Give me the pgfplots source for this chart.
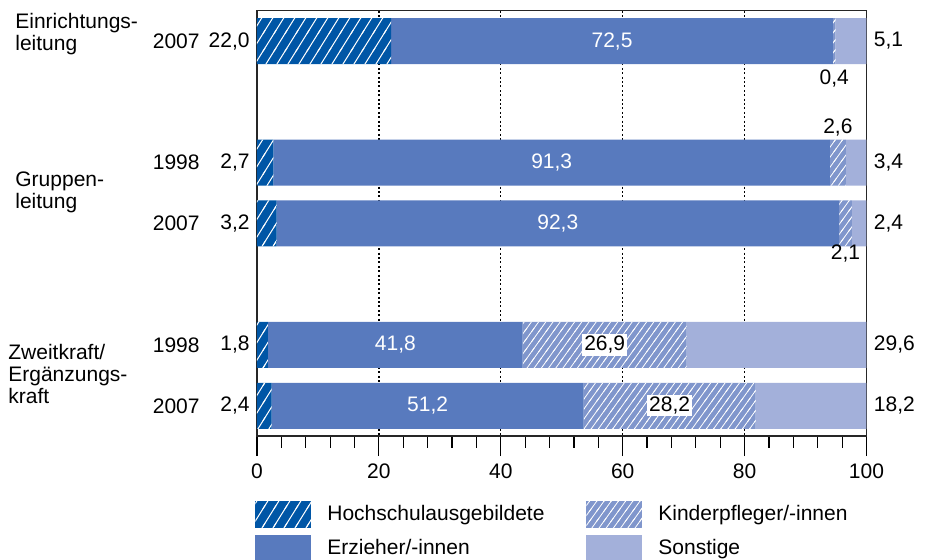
\documentclass[border=0pt]{standalone}
\usepackage{fontspec}
\setmainfont{Liberation Sans}
\usepackage{pgfplots}
\usepackage{pgfplotstable}
\pgfplotsset{compat=1.18}
\usetikzlibrary{patterns}

\definecolor{hsblue}{RGB}{0,86,166}
\definecolor{erzblue}{RGB}{88,122,190}
\definecolor{kpblue}{RGB}{128,150,204}
\definecolor{sonst}{RGB}{163,176,218}

% Schraffuren: Linien von links unten nach rechts oben
\pgfdeclarepatternformonly{hatchwide}{\pgfqpoint{-1pt}{-1pt}}{\pgfqpoint{6.5pt}{9.8pt}}{\pgfqpoint{5.5pt}{8.8pt}}{%
  \pgfsetlinewidth{0.5pt}%
  \pgfpathmoveto{\pgfqpoint{-0.55pt}{-0.88pt}}%
  \pgfpathlineto{\pgfqpoint{6.05pt}{9.68pt}}%
  \pgfusepath{stroke}}
\pgfdeclarepatternformonly{hatchfine}{\pgfqpoint{-1pt}{-1pt}}{\pgfqpoint{4.6pt}{6pt}}{\pgfqpoint{3.6pt}{5pt}}{%
  \pgfsetlinewidth{0.4pt}%
  \pgfpathmoveto{\pgfqpoint{-0.72pt}{-1pt}}%
  \pgfpathlineto{\pgfqpoint{4.32pt}{6pt}}%
  \pgfusepath{stroke}}

% y = Zeile (1 oben), h = Hochschul, e = Erzieher, k = Kinderpfleger, s = Sonstige
\pgfplotstableread{
y h    e    k    s
1 22.0 72.5 0.4  5.1
3 2.7  91.3 2.6  3.4
4 3.2  92.3 2.1  2.4
6 1.8  41.8 26.9 29.6
7 2.4  51.2 28.2 18.2
}\data

\pgfplotsset{
  swatch/.style={legend image code/.code={\fill[##1] (0pt,-6.75pt) rectangle (28pt,6.75pt);}},
  labels/.style={after end axis/.code={%
    \tikzset{every node/.style={inner sep=0pt}}%
    % Werte innerhalb der Balken
    \node[white] at (axis cs:58.25,1) {72,5};
    \node[white] at (axis cs:48.35,3) {91,3};
    \node[white] at (axis cs:49.35,4) {92,3};
    \node[white] at (axis cs:22.7,6) {41,8};
    \node[white] at (axis cs:28.0,7) {51,2};
    \node[fill=white, inner sep=1pt] at (axis cs:57.05,6) {26,9};
    \node[fill=white, inner sep=1pt] at (axis cs:67.7,7) {28,2};
    % kleine Anteile
    \node[yshift=-18.5pt] at (axis cs:94.7,1) {0,4};
    \node[yshift=17.5pt] at (axis cs:95.3,3) {2,6};
    \node[yshift=-15pt] at (axis cs:96.55,4) {2,1};
    % Hochschulanteile links
    \node[anchor=east, xshift=-3.5pt] at (axis cs:0,1) {22,0};
    \node[anchor=east, xshift=-3.5pt] at (axis cs:0,3) {2,7};
    \node[anchor=east, xshift=-3.5pt] at (axis cs:0,4) {3,2};
    \node[anchor=east, xshift=-3.5pt] at (axis cs:0,6) {1,8};
    \node[anchor=east, xshift=-3.5pt] at (axis cs:0,7) {2,4};
    % Jahre
    \node[anchor=east, xshift=-28.5pt] at (axis cs:0,1) {2007};
    \node[anchor=east, xshift=-28.5pt] at (axis cs:0,3) {1998};
    \node[anchor=east, xshift=-28.5pt] at (axis cs:0,4) {2007};
    \node[anchor=east, xshift=-28.5pt] at (axis cs:0,6) {1998};
    \node[anchor=east, xshift=-28.5pt] at (axis cs:0,7) {2007};
    % Sonstige rechts
    \node[anchor=west, xshift=3.5pt] at (axis cs:100,1) {5,1};
    \node[anchor=west, xshift=3.5pt] at (axis cs:100,3) {3,4};
    \node[anchor=west, xshift=3.5pt] at (axis cs:100,4) {2,4};
    \node[anchor=west, xshift=3.5pt] at (axis cs:100,6) {29,6};
    \node[anchor=west, xshift=3.5pt] at (axis cs:100,7) {18,2};
    % Gruppen
    \node[anchor=west, align=left, xshift=-121pt] at (axis cs:0,0.885) {Einrichtungs-\\leitung};
    \node[anchor=west, align=left, xshift=-121pt] at (axis cs:0,3.49) {Gruppen-\\leitung};
    \node[anchor=west, align=left, xshift=-124.5pt] at (axis cs:0,6.48) {Zweitkraft/\\Ergänzungs-\\kraft};
  }},
}

\begin{document}
\fontsize{10.5}{11}\selectfont
\begin{tikzpicture}
\useasboundingbox (-128.5pt,-61.9pt) rectangle (335.5pt,218.1pt);
\begin{axis}[
    scale only axis,
    width=304.75pt, height=212.8pt,
    xbar stacked,
    bar width=23pt,
    xmin=0, xmax=100,
    ymin=0.5, ymax=7.5,
    y dir=reverse,
    xtick={0,20,...,100},
    minor xtick={4,8,...,96},
    ytick=\empty,
    minor ytick={0.5,1.5,...,7.5},
    xtick pos=left, ytick pos=left,
    tick align=outside,
    major tick length=10pt,
    minor tick length=5.75pt,
    tick style={black, line width=0.6pt},
    axis line style={line width=0.8pt, black!85},
    xmajorgrids,
    major x grid style={dash pattern=on 1pt off 1.2pt, black, line width=0.7pt},
    /pgf/number format/assume math mode=true,
    legend columns=2,
    transpose legend,
    legend style={at={(axis description cs:0,0)}, anchor=north west,
      xshift=-1pt, yshift=-32pt, draw=none, fill=none, inner sep=0pt,
      column sep=6pt, row sep=3.75pt},
    legend cell align=left,
    labels,
]
\addplot[fill=hsblue, draw=none, swatch,
  postaction={pattern=hatchwide, pattern color=white}]
  table[x=h, y=y] {\data};
\addplot[fill=erzblue, draw=none, swatch] table[x=e, y=y] {\data};
\addplot[fill=kpblue, draw=none, swatch,
  postaction={pattern=hatchfine, pattern color=white}]
  table[x=k, y=y] {\data};
\addplot[fill=sonst, draw=none, swatch] table[x=s, y=y] {\data};
\addlegendentry{\makebox[121.5pt][l]{Hochschulausgebildete}}
\addlegendentry{\makebox[121.5pt][l]{Erzieher/-innen}}
\addlegendentry{Kinderpfleger/-innen}
\addlegendentry{Sonstige}
\end{axis}
\end{tikzpicture}
\end{document}
